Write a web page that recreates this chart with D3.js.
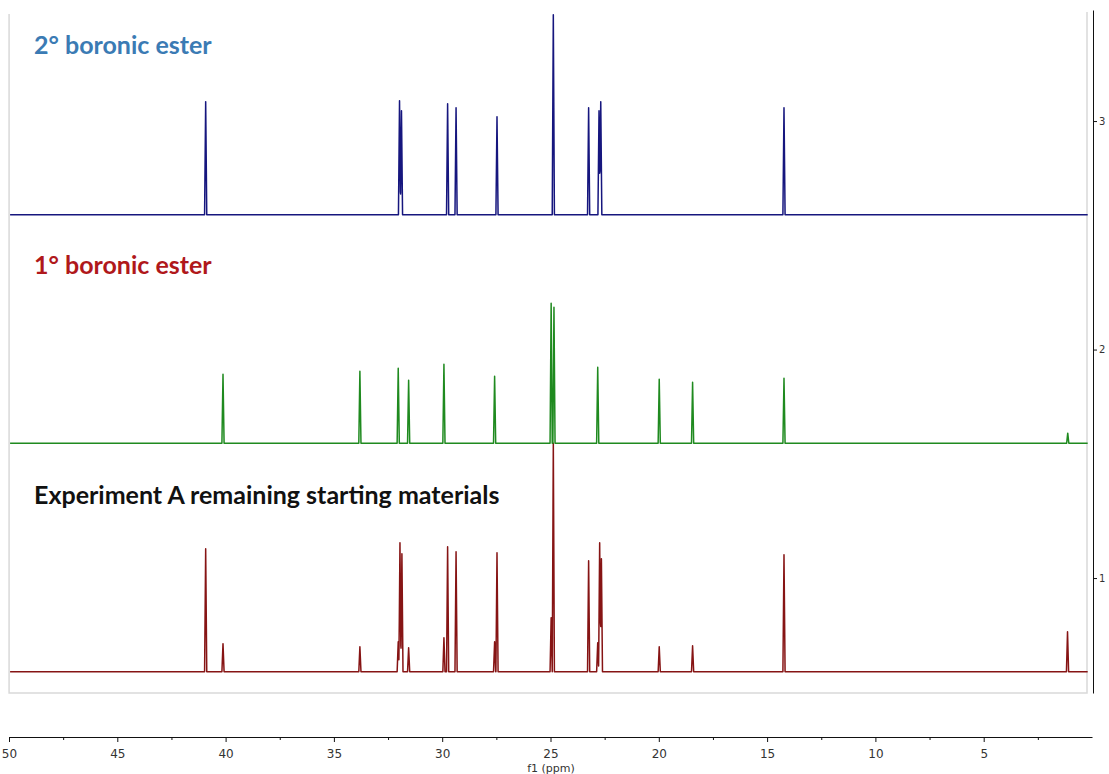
<!DOCTYPE html>
<html>
<head>
<meta charset="utf-8">
<script src="https://cdn.jsdelivr.net/npm/d3@7"></script>
<style>
  body { margin: 0; background: #fff; }
  .axis text { font-family: "DejaVu Sans", Verdana, sans-serif; font-size: 12px; fill: #333; }
  .axis path, .axis line { stroke: #111; }
  .title { font-family: Lato, "Open Sans", sans-serif; font-weight: bold; font-size: 25px; }
</style>
</head>
<body>
<svg id="nmr" width="1109" height="774"></svg>
<script>
// peak lists: [ppm, height in right-axis units]
const bluePeaks = [
    [40.92, 0.495], [31.97, 0.499], [31.88, 0.455], [29.75, 0.486], [29.36, 0.468],
    [27.47, 0.429], [24.87, 0.875], [23.24, 0.468], [22.76, 0.455], [22.68, 0.495],
    [14.22, 0.468]
];
const greenPeaks = [
    [40.12, 0.302], [33.80, 0.315], [32.03, 0.328], [31.55, 0.276], [29.92, 0.346],
    [27.58, 0.293], [24.97, 0.613], [24.84, 0.595], [22.82, 0.333], [19.98, 0.280],
    [18.44, 0.267], [14.22, 0.284], [1.12, 0.044]
];
const redPeaks = [
    [40.92, 0.538], [40.12, 0.123], [33.80, 0.109], [32.03, 0.131], [31.95, 0.565],
    [31.86, 0.516], [31.55, 0.105], [29.92, 0.149], [29.75, 0.547], [29.36, 0.525],
    [27.58, 0.131], [27.47, 0.521], [24.97, 0.236], [24.87, 1.0], [23.24, 0.486],
    [22.82, 0.127], [22.73, 0.565], [22.65, 0.495], [19.98, 0.109], [18.44, 0.114],
    [14.22, 0.512], [1.13, 0.175]
];
const offsets = [2.59, 1.59, 0.59];           // baseline of each trace, right-axis units
const seriesNames = ["2° boronic ester", "1° boronic ester", "Experiment A remaining starting materials"];
const majorTicks = [50, 45, 40, 35, 30, 25, 20, 15, 10, 5];
const minorTicks = [47.5, 42.5, 37.5, 32.5, 27.5, 22.5, 17.5, 12.5, 7.5, 2.5];
const rightTicks = [1, 2, 3];

const svg = d3.select("#nmr");

const x = d3.scaleLinear().domain([50, 0]).range([9, 1092]);
const y = d3.scaleLinear().domain([0.497, 3.486]).range([693, 10]);

const ppmStart = 49.95, ppmEnd = 0.2, halfWidth = 0.05;

// plot frame (light grey)
svg.append("path")
    .attr("d", `M${x(ppmStart) - 1},14 V693 H1087 V12`)
    .attr("fill", "none")
    .attr("stroke", "#d9d9d9")
    .attr("stroke-width", 1.5);

// build a stick spectrum: each peak a narrow triangle on the baseline
function spectrum(peaks, base) {
    let xs = [ppmStart, ppmEnd];
    peaks.forEach(p => xs.push(p[0] - halfWidth, p[0], p[0] + halfWidth));
    xs = xs.filter(v => v <= ppmStart && v >= ppmEnd).sort((a, b) => b - a);
    return xs.map(v => {
        let h = 0;
        peaks.forEach(p => {
            const d = Math.abs(v - p[0]);
            if (d < halfWidth) h += p[1] * (1 - d / halfWidth);
        });
        return [v, base + h];
    });
}

const line = d3.line().x(d => x(d[0])).y(d => y(d[1]));

const traces = [
    { peaks: bluePeaks, color: "#16167e" },
    { peaks: greenPeaks, color: "#1f8a1f" },
    { peaks: redPeaks, color: "#861414" }
];

// draw bottom trace first so the upper ones sit on top
traces.slice().reverse().forEach((t, i) => {
    const idx = traces.length - 1 - i;
    svg.append("path")
        .datum(spectrum(t.peaks, offsets[idx]))
        .attr("d", line)
        .attr("fill", "none")
        .attr("stroke", t.color)
        .attr("stroke-width", 1.5)
        .attr("stroke-linejoin", "round");
});

// labels
const titleColors = ["#3b7bb4", "#b0181b", "#111"];
const titleY = [54, 274, 504];
seriesNames.forEach((name, i) => {
    svg.append("text")
        .attr("class", "title")
        .attr("x", 34)
        .attr("y", titleY[i])
        .attr("fill", titleColors[i])
        .text(name);
});

// bottom ppm axis
svg.append("g")
    .attr("class", "axis")
    .attr("transform", "translate(0,737)")
    .call(d3.axisBottom(x).tickValues(majorTicks).tickSize(5).tickSizeOuter(0).tickFormat(d3.format("d")))
    .call(g => g.selectAll("text").attr("dy", "1.1em"));

svg.append("g")
    .attr("class", "axis")
    .attr("transform", "translate(0,737)")
    .call(d3.axisBottom(x).tickValues(minorTicks).tickSize(3).tickFormat(""))
    .call(g => g.select(".domain").remove());

svg.append("text")
    .attr("x", 551)
    .attr("y", 772)
    .attr("text-anchor", "middle")
    .style("font-family", "DejaVu Sans, Verdana, sans-serif")
    .style("font-size", "11px")
    .attr("fill", "#333")
    .text("f1 (ppm)");

// right intensity axis
svg.append("g")
    .attr("class", "axis")
    .attr("transform", "translate(1093,0)")
    .call(d3.axisRight(y).tickValues(rightTicks).tickSize(4).tickPadding(2).tickSizeOuter(0).tickFormat(d3.format("d")))
    .call(g => g.selectAll("text").style("font-size", "10px"));
</script>
</body>
</html>
